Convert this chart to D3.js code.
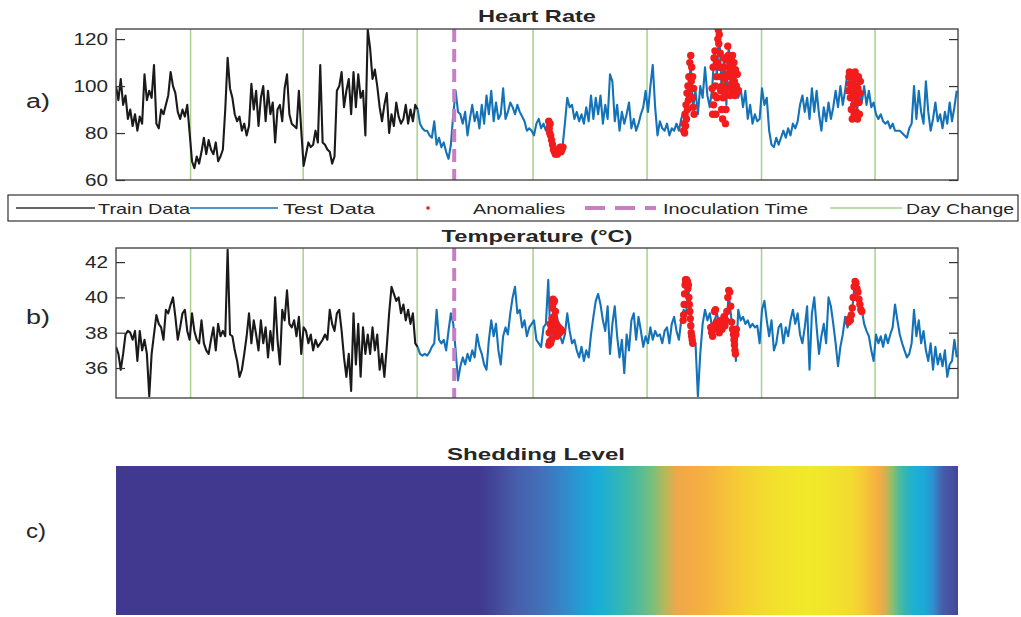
<!DOCTYPE html>
<html>
<head>
<meta charset="utf-8">
<script src="https://cdn.jsdelivr.net/npm/d3@7"></script>
<style>
  body { margin: 0; background: #fff; }
  text { font-family: "Liberation Sans", Arial, sans-serif; fill: #262626; }
</style>
</head>
<body>
<div id="chart"></div>
<script>
// time is in hours, one sample every half hour
var hours = 177.26;
var step = 0.5;
var trainEnd = 127;
var dayChanges = [15.7, 39.4, 63.4, 87.8, 111.8, 135.9, 159.8];
var inoculation = 71.2;

var heartRate = [
  100,94,103,92,96,86,90,83,88,81,87,84,105,94,98,95,109,84,82,90,88,92,96,106,100,97,89,86,90,87,92,80,
  68,65,70,67,72,78,71,77,73,71,76,68,70,73,90,112,99,95,88,85,87,81,84,79,83,101,90,98,83,95,100,85,98,88,93,76,90,92,85,99,105,88,84,83,82,98,81,
  66,71,76,74,75,81,76,109,76,75,73,72,67,70,98,100,106,91,98,103,88,106,91,105,95,98,79,124,116,103,107,100,91,85,92,97,80,88,83,93,87,84,
  86,92,84,90,85,92,90,
  84,82,81,81,79,78,85,75,78,74,76,72,69,75,
  88,98,89,88,84,89,79,86,92,85,89,82,92,84,
  96,88,98,85,93,86,88,99,86,89,93,91,88,92,
  89,87,85,81,82,81,79,84,86,82,84,81,85,79,
  75,72,73,75,74,84,95,91,92,86,89,85,88,84,
  91,85,96,86,95,88,96,84,92,86,105,102,85,92,
  81,89,84,88,93,82,86,81,84,88,91,98,89,100,
  109,91,79,85,82,81,84,79,82,81,84,81,86,89,
  84,98,109,91,98,88,100,95,108,96,91,99,115,105,
  123,98,112,92,118,98,111,99,95,99,91,98,86,92,
  84,88,85,86,99,92,95,81,75,74,78,75,78,81,
  78,82,79,84,82,85,92,96,89,95,86,99,89,98,
  88,81,91,85,93,86,91,98,91,100,92,98,106,102,
  93,105,89,99,93,100,92,98,91,93,88,86,88,85,
  84,85,82,84,81,81,81,80,79,78,82,84,100,86,
  98,89,84,102,89,81,86,93,85,88,82,89,84,93,
  85,91,98
];

var temperature = [
  37.2,36.8,35.9,36.8,37.9,38.1,38.0,37.6,38.1,36.4,38.1,37.0,37.6,36.8,34.4,36.8,37.9,39.0,38.5,38.3,37.6,39.3,39.1,39.6,40.0,38.9,37.6,38.3,39.1,39.3,38.1,37.6,
  39.1,38.1,37.6,37.4,38.7,37.4,37.0,36.8,37.6,38.3,37.0,38.5,37.8,38.1,37.8,42.7,37.9,37.8,37.0,36.4,35.5,35.9,36.8,37.8,39.1,37.4,38.7,37.9,37.0,38.7,37.4,38.3,36.6,38.1,37.0,40.0,37.6,36.2,39.3,38.7,40.4,38.5,38.3,38.7,37.8,38.9,36.8,
  38.3,38.1,37.4,37.9,37.0,37.6,37.2,37.4,37.6,37.9,37.6,39.3,38.5,38.1,39.1,39.3,38.1,36.6,35.5,36.8,34.7,39.1,36.2,38.5,35.5,38.3,36.8,37.9,36.8,38.3,37.0,37.9,35.9,36.8,35.5,37.2,39.1,40.6,40.2,39.8,40.0,39.1,
  39.6,38.7,39.3,38.5,39.1,37.4,37.2,
  36.8,36.7,36.8,36.7,36.9,37.2,37.4,39.3,37.6,37.4,37.6,37.0,38.1,39.1,
  38.5,37.0,35.3,36.1,36.6,36.2,36.8,36.4,37.0,36.6,37.9,37.2,36.8,36.2,
  35.9,37.6,38.7,37.8,38.5,37.0,36.2,37.8,38.3,37.9,39.1,40.0,40.6,39.1,
  39.3,38.3,38.7,37.8,38.3,38.5,38.7,37.6,37.4,37.2,38.3,38.5,41.0,37.4,
  37.8,39.3,38.7,37.8,37.4,37.9,39.1,38.1,37.4,37.6,37.0,36.6,37.2,36.4,
  37.0,36.6,37.9,38.9,39.8,40.2,39.6,38.7,38.1,39.5,36.8,38.5,39.5,37.8,
  36.6,37.6,35.7,37.9,37.0,38.7,39.1,37.6,38.9,38.1,37.2,37.8,37.4,38.3,
  37.6,38.1,37.8,37.9,37.4,38.1,38.3,37.4,38.5,38.9,38.1,37.6,38.7,39.3,
  39.1,40.4,39.3,37.6,37.4,34.4,36.8,38.5,39.3,38.7,39.1,38.3,38.7,39.1,
  38.5,38.3,38.9,38.5,40.2,38.9,37.9,36.4,39.3,38.7,38.9,38.5,38.7,38.3,
  38.5,38.3,38.4,37.4,39.3,39.8,38.7,37.8,38.7,37.0,37.4,38.3,38.5,37.4,
  38.3,37.8,38.7,39.3,38.5,39.1,37.9,37.4,38.3,39.5,35.9,39.1,40.0,38.3,
  36.8,37.8,38.5,37.4,40.0,39.5,38.5,37.4,36.1,37.2,37.9,38.9,38.3,38.7,
  39.3,40.8,40.2,39.6,39.3,38.5,38.1,37.8,37.0,36.4,37.9,37.4,37.8,37.2,
  37.9,37.4,37.9,38.3,39.6,38.7,37.9,37.4,37.0,36.6,36.8,37.4,39.3,37.8,
  38.7,37.4,38.1,37.0,36.4,37.4,35.9,37.2,36.2,36.8,36.1,37.0,35.5,36.2,
  36.4,37.6,36.6
];

// anomalies: [hour, value]
var hrAnomalies = [
  [91.1,85],[91.2,82],[91.3,80],[91.4,84],[91.5,79],[91.7,77],[91.9,75],[92.1,73],[92.3,72],[92.5,71],
  [92.7,72],[92.9,71],[93.1,73],[93.3,72],[93.5,74],[93.7,72],[93.9,73],[94.1,74],
  [119.5,81],[119.6,84],[119.7,80],[119.8,88],[119.9,83],[120.0,92],[120.1,86],[120.2,97],[120.3,90],
  [120.4,100],[120.5,94],[120.6,104],[120.7,96],[120.8,110],[120.9,99],[121.0,113],[121.1,102],
  [121.2,108],[121.3,95],[121.4,104],[121.5,91],[121.6,99],[121.7,88],
  [125.5,99],[125.6,88],[125.7,108],[125.8,92],[125.9,112],[126.0,96],[126.1,115],[126.2,100],[126.3,88],
  [126.4,104],[126.5,95],[126.6,110],[126.7,120],[126.8,124],[126.9,118],[127.0,122],[127.1,108],
  [127.2,114],[127.3,98],[127.4,104],[127.5,90],[127.6,100],[127.7,86],[127.8,95],[127.9,108],
  [128.0,112],[128.1,103],[128.2,96],[128.3,84],[128.4,90],[128.5,99],[128.6,105],[128.7,111],
  [128.8,117],[128.9,113],[129.0,108],[129.1,99],[129.2,104],[129.3,96],[129.4,107],[129.5,112],
  [129.6,101],[129.7,109],[129.8,113],[129.9,104],[130.0,98],[130.1,110],[130.2,102],[130.3,96],
  [130.4,107],[130.6,100],[130.8,105],[131.0,98],
  [154.2,98],[154.3,104],[154.4,106],[154.5,101],[154.6,95],[154.7,105],[154.8,90],[154.9,100],
  [155.0,86],[155.1,97],[155.2,104],[155.3,92],[155.4,88],[155.5,103],[155.6,106],[155.7,96],
  [155.8,89],[155.9,100],[156.0,94],[156.1,86],[156.2,99],[156.3,104],[156.4,93],[156.5,88],
  [156.6,97],[156.7,102]
];

var tempAnomalies = [
  [91.1,37.3],[91.2,38.0],[91.3,37.5],[91.4,38.5],[91.5,37.4],[91.6,38.2],[91.7,37.6],[91.8,38.8],
  [91.9,39.4],[92.0,39.9],[92.1,39.7],[92.2,38.9],[92.3,39.8],[92.4,38.6],[92.5,39.2],[92.6,38.0],
  [92.7,38.5],[92.8,37.8],[92.9,38.4],[93.0,37.9],[93.2,38.3],[93.4,38.0],[93.6,38.2],[93.8,38.1],
  [119.4,38.7],[119.5,39.0],[119.6,39.6],[119.7,40.2],[119.8,40.7],[119.9,41.0],[120.0,40.9],
  [120.1,41.0],[120.2,40.8],[120.3,40.9],[120.4,40.5],[120.5,40.7],[120.6,40.0],[120.7,39.6],
  [120.8,39.2],[120.9,38.8],[121.0,38.4],[121.1,38.0],[121.2,37.8],[121.3,37.6],[121.4,37.4],
  [125.2,38.3],[125.4,38.0],[125.6,37.8],[125.8,38.4],[126.0,39.2],[126.2,39.3],[126.4,38.6],
  [126.6,38.2],[126.8,38.6],[127.0,38.0],[127.2,38.4],[127.4,38.7],[127.6,38.2],[127.8,38.5],
  [128.0,38.9],[128.2,38.4],[128.4,38.7],[128.6,39.2],[128.8,40.0],[129.0,40.4],[129.2,40.3],
  [129.4,39.5],[129.6,38.6],[129.8,38.2],[130.0,37.9],[130.1,37.6],[130.2,37.3],[130.3,37.0],
  [130.4,36.8],[130.5,37.9],[130.6,38.2],
  [154.2,38.6],[154.4,38.8],[154.6,38.7],[154.8,39.0],[155.0,39.4],[155.2,40.0],[155.4,40.6],
  [155.6,40.9],[155.8,40.8],[156.0,40.5],[156.2,40.3],[156.4,39.9],[156.6,39.6],[156.8,39.3],[157.0,39.2]
];

var hrTicks = [60, 80, 100, 120];
var tempTicks = [36, 38, 40, 42];

var shedTimes  = [0, 76.7, 80, 84, 89, 93, 97, 101, 104, 107, 110, 113, 115.5, 118, 121, 124, 127, 131, 135, 140, 146, 151, 155, 158, 160.5, 162, 163.5, 165, 166.5, 168, 170, 172, 174, 177.26];
var shedLevels = [0, 0, 0.05, 0.12, 0.18, 0.25, 0.33, 0.41, 0.47, 0.53, 0.58, 0.64, 0.72, 0.79, 0.81, 0.83, 0.86, 0.9, 0.94, 0.98, 1, 0.98, 0.95, 0.88, 0.82, 0.76, 0.66, 0.57, 0.5, 0.44, 0.4, 0.3, 0.12, 0.05];

var parulaStops  = [0, 0.15, 0.3, 0.42, 0.55, 0.68, 0.8, 0.9, 1];
var parulaColors = ["#41398f", "#4866b1", "#2f8fcf", "#17aedb", "#3db9a7", "#96c166", "#f5a646", "#f6cb35", "#f1e92a"];

var width = 1021, height = 617;
var left = 116, right = 958;

var svg = d3.select("#chart").append("svg")
  .attr("width", width)
  .attr("height", height);

var x = d3.scaleLinear().domain([0, hours]).range([left, right]);

// text stretched to the measured width (the figure is a bit wide)
function label(g, txt, px, py, size, len, anchor, weight) {
  var t = g.append("text")
    .attr("x", px)
    .attr("y", py)
    .attr("font-size", size)
    .attr("text-anchor", anchor || "start")
    .attr("font-weight", weight || "normal")
    .text(txt);
  if (len) t.attr("textLength", len).attr("lengthAdjust", "spacingAndGlyphs");
  return t;
}

function panel(o) {
  var g = svg.append("g");
  var y = d3.scaleLinear().domain(o.domain).range([o.bottom, o.top]);

  var clipId = "clip" + o.id;
  svg.append("clipPath").attr("id", clipId)
    .append("rect")
    .attr("x", left).attr("y", o.top)
    .attr("width", right - left).attr("height", o.bottom - o.top);

  var plot = g.append("g").attr("clip-path", "url(#" + clipId + ")");

  plot.selectAll(".day")
    .data(dayChanges)
    .enter().append("line")
    .attr("x1", function(d) { return x(d); })
    .attr("x2", function(d) { return x(d); })
    .attr("y1", o.top).attr("y2", o.bottom)
    .attr("stroke", "#a9d08e")
    .attr("stroke-width", 1.5);

  var pts = o.values.map(function(v, i) { return {t: i * step, v: v}; });
  var line = d3.line()
    .x(function(d) { return x(d.t); })
    .y(function(d) { return y(d.v); });

  plot.append("path")
    .datum(pts.slice(0, trainEnd + 1))
    .attr("d", line)
    .attr("fill", "none")
    .attr("stroke", "#1a1a1a")
    .attr("stroke-width", 2.1)
    .attr("stroke-linejoin", "round");

  plot.append("path")
    .datum(pts.slice(trainEnd))
    .attr("d", line)
    .attr("fill", "none")
    .attr("stroke", "#1372b8")
    .attr("stroke-width", 2.1)
    .attr("stroke-linejoin", "round");

  plot.selectAll(".anom")
    .data(o.anomalies)
    .enter().append("circle")
    .attr("cx", function(d) { return x(d[0]); })
    .attr("cy", function(d) { return y(d[1]); })
    .attr("r", 3.7)
    .attr("fill", "#f21c1c");

  plot.append("line")
    .attr("x1", x(inoculation)).attr("x2", x(inoculation))
    .attr("y1", o.top).attr("y2", o.bottom)
    .attr("stroke", "#c77fc4")
    .attr("stroke-width", 4)
    .attr("stroke-dasharray", "13,7");

  // MATLAB style: ticks point inside, on both sides
  var yl = d3.axisLeft(y).tickValues(o.ticks).tickSize(-9).tickPadding(8).tickFormat("");
  var yr = d3.axisRight(y).tickValues(o.ticks).tickSize(-9).tickFormat("");
  g.append("g").attr("transform", "translate(" + left + ",0)").call(yl);
  g.append("g").attr("transform", "translate(" + right + ",0)").call(yr);
  g.selectAll(".domain").remove();
  g.selectAll(".tick line").attr("stroke", "#333").attr("stroke-width", 1.2);

  o.ticks.forEach(function(tk) {
    var s = String(tk);
    label(g, s, 108, y(tk) + 6, 17, s.length * 11.5, "end");
  });

  g.append("rect")
    .attr("x", left).attr("y", o.top)
    .attr("width", right - left).attr("height", o.bottom - o.top)
    .attr("fill", "none")
    .attr("stroke", "#3a3a3a")
    .attr("stroke-width", 1.3);

  label(g, o.title, 537, o.titleY, 17, o.titleLen, "middle", "bold");
  label(g, o.letter, 26, o.letterY, 20, 24);
}

panel({id: "hr", top: 29, bottom: 180, domain: [60, 124.3], ticks: hrTicks,
  values: heartRate, anomalies: hrAnomalies,
  title: "Heart Rate", titleY: 22, titleLen: 118, letter: "a)", letterY: 108});

panel({id: "temp", top: 248, bottom: 398, domain: [34.3, 42.8], ticks: tempTicks,
  values: temperature, anomalies: tempAnomalies,
  title: "Temperature (°C)", titleY: 242, titleLen: 191, letter: "b)", letterY: 324});

// legend
var lg = svg.append("g");
lg.append("rect")
  .attr("x", 8).attr("y", 195)
  .attr("width", 1010).attr("height", 26)
  .attr("fill", "#fff")
  .attr("stroke", "#333")
  .attr("stroke-width", 1.2);

var ly = 208, lt = 214;
lg.append("line").attr("x1", 16).attr("x2", 95).attr("y1", ly).attr("y2", ly)
  .attr("stroke", "#333").attr("stroke-width", 1.5);
label(lg, "Train Data", 98, lt, 15, 92);
lg.append("line").attr("x1", 190).attr("x2", 278).attr("y1", ly).attr("y2", ly)
  .attr("stroke", "#1372b8").attr("stroke-width", 1.5);
label(lg, "Test Data", 283, lt, 15, 92);
lg.append("circle").attr("cx", 428).attr("cy", ly).attr("r", 1.8).attr("fill", "#f21c1c");
label(lg, "Anomalies", 473, lt, 15, 92);
lg.append("line").attr("x1", 585).attr("x2", 656).attr("y1", ly).attr("y2", ly)
  .attr("stroke", "#c77fc4").attr("stroke-width", 4).attr("stroke-dasharray", "20,10");
label(lg, "Inoculation Time", 663, lt, 15, 145);
lg.append("line").attr("x1", 830).attr("x2", 902).attr("y1", ly).attr("y2", ly)
  .attr("stroke", "#a9d08e").attr("stroke-width", 1.5);
label(lg, "Day Change", 906, lt, 15, 108);

// shedding level strip
var color = d3.scaleLinear().domain(parulaStops).range(parulaColors);
var grad = svg.append("defs").append("linearGradient")
  .attr("id", "shed")
  .attr("gradientUnits", "userSpaceOnUse")
  .attr("x1", left).attr("x2", right)
  .attr("y1", 0).attr("y2", 0);
grad.selectAll("stop")
  .data(shedTimes)
  .enter().append("stop")
  .attr("offset", function(d) { return (x(d) - left) / (right - left); })
  .attr("stop-color", function(d, i) { return color(shedLevels[i]); });

var sg = svg.append("g");
sg.append("rect")
  .attr("x", left).attr("y", 466)
  .attr("width", right - left).attr("height", 149)
  .attr("fill", "url(#shed)");
label(sg, "Shedding Level", 536, 460, 17, 178, "middle", "bold");
label(sg, "c)", 26, 538, 20, 20);
</script>
</body>
</html>
